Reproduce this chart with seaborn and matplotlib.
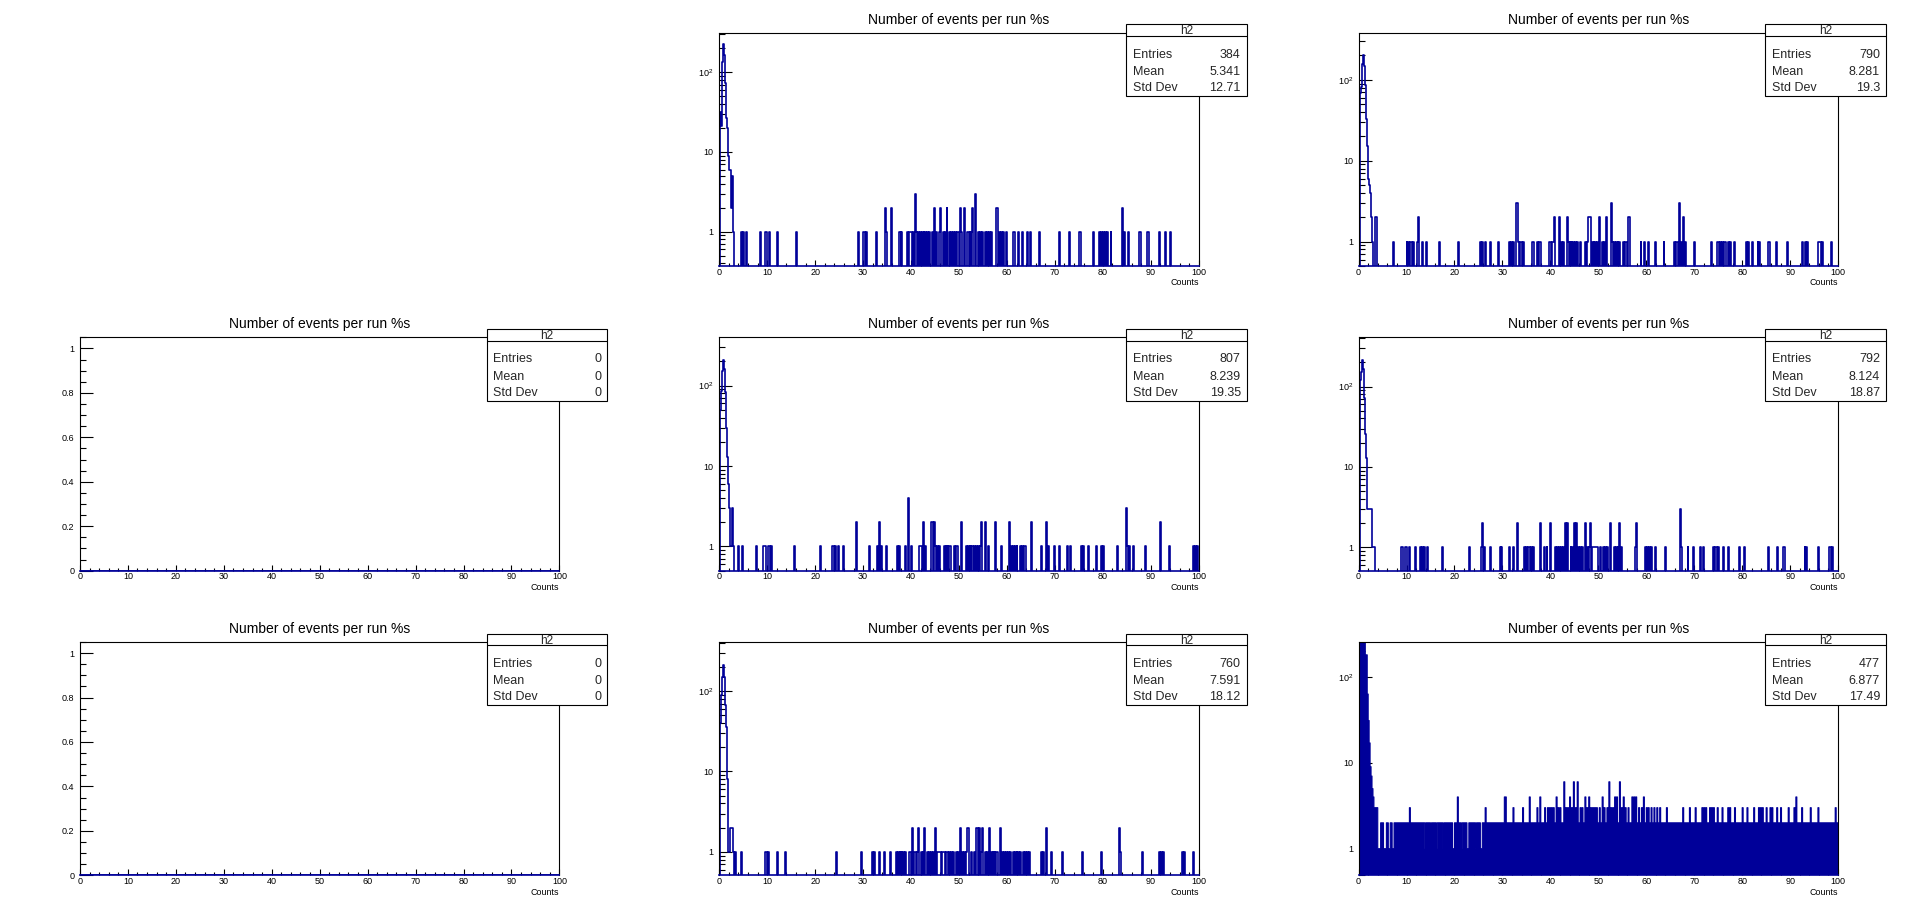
import numpy as np
import pandas as pd
import matplotlib
matplotlib.use("Agg")
import matplotlib.pyplot as plt
import seaborn as sns
from matplotlib.patches import Rectangle
from matplotlib.lines import Line2D
from matplotlib.ticker import MultipleLocator, LogLocator, NullFormatter, FuncFormatter

sns.set_theme(style="white")
plt.rcParams['font.family'] = ['Liberation Sans', 'DejaVu Sans']
plt.rcParams['mathtext.fontset'] = 'custom'
plt.rcParams['mathtext.rm'] = 'Liberation Sans'

BLUE = '#000099'
TITLE = 'Number of events per run %s'

# bins: 500 bins of 0.2 between 0 and 100
NBINS = 500
edges = np.linspace(0, 100, NBINS + 1)
centers = (edges[:-1] + edges[1:]) / 2

# ---- panel A (row 1, middle) ----
a_peak = [0, 32, 21, 135, 225, 165, 74, 27, 20, 9, 6, 6, 2, 5, 1]
a_ones = [4.7, 5.1, 5.7, 8.7, 9.7, 9.9, 10.5, 12.1, 16.1, 29.1, 30.1, 30.3, 30.7, 32.7, 34.9,
          37.5, 37.7, 38.1, 39.3, 39.7, 39.9, 40.1, 40.5, 41.1, 41.5, 41.9, 42.3, 42.7, 43.1,
          43.5, 43.9, 44.5, 45.3, 45.9, 46.7, 47.1, 48.1, 48.5, 48.9, 49.3, 49.7, 49.9, 50.5,
          51.7, 51.9, 52.3, 52.7, 54.1, 54.5, 54.9, 55.5, 55.9, 56.3, 56.7, 58.5, 58.9, 59.3,
          59.9, 61.3, 61.5, 62.5, 63.3, 64.3, 64.9, 66.7, 70.9, 73.1, 75.1, 75.3, 78.1, 79.3,
          79.7, 80.1, 80.5, 80.9, 81.7, 84.5, 85.3, 87.7, 87.9, 89.3, 89.5, 91.9, 93.1, 94.1]
a_twos = [34.7, 35.9, 44.9, 46.1, 47.5, 50.3, 51.1, 52.9, 57.9, 58.1, 84.1]
a_threes = [40.9, 53.5]

# ---- panel B (row 1, right) ----
b_peak = [0, 42, 68, 82, 155, 200, 147, 87, 33, 15, 6, 5, 4, 2, 1]
b_ones = [7.3, 10.1, 10.5, 10.9, 11.1, 11.5, 12.3, 13.3, 14.1, 16.9, 20.9, 25.5, 25.9, 26.5,
          27.5, 29.1, 31.5, 31.9, 32.3, 33.3, 33.7, 33.9, 34.3, 36.3, 36.5, 37.3, 37.7, 37.9,
          39.9, 40.1, 40.5, 40.7, 42.3, 42.7, 43.7, 44.1, 44.5, 44.9, 45.3, 45.7, 46.3, 47.3,
          47.7, 48.7, 49.1, 49.5, 49.9, 50.9, 51.3, 52.9, 53.3, 53.7, 54.1, 54.5, 55.3, 55.7,
          55.9, 58.9, 59.7, 60.5, 61.9, 63.7, 65.9, 66.3, 66.5, 67.3, 68.1, 70.1, 73.7, 74.9,
          75.1, 75.5, 75.9, 76.3, 76.5, 77.1, 77.5, 78.3, 80.9, 81.3, 82.1, 83.3, 83.7, 85.5,
          85.7, 87.1, 89.5, 92.5, 93.3, 93.7, 95.9, 96.1, 96.3, 96.7, 98.7]
b_twos = [3.5, 3.7, 12.5, 40.9, 41.9, 43.5, 47.9, 48.1, 48.3, 50.3, 51.7, 56.3, 56.5, 67.7]
b_threes = [32.9, 33.1, 52.7, 66.9]

# ---- panel C (row 2, middle) ----
c_peak = [0, 50, 86, 150, 207, 160, 82, 30, 13, 6, 3, 1, 1, 3, 1]
c_ones = [4.1, 4.9, 7.7, 9.3, 9.5, 9.7, 10.3, 10.5, 10.9, 15.7, 21.1, 23.7, 23.9, 24.3, 24.9,
          25.9, 31.3, 32.9, 33.1, 33.9, 34.9, 37.1, 37.5, 38.9, 40.1, 41.7, 41.9, 42.1, 42.7,
          43.1, 45.1, 45.5, 45.9, 46.9, 47.3, 47.7, 48.1, 48.3, 49.1, 49.5, 49.7, 51.5, 51.9,
          52.3, 52.7, 52.9, 53.3, 53.7, 54.1, 54.5, 56.1, 58.9, 60.9, 61.3, 61.7, 62.1, 62.9,
          63.3, 63.7, 63.9, 67.3, 68.7, 69.9, 70.9, 72.7, 73.3, 75.5, 75.9, 77.1, 78.7, 79.7,
          80.1, 83.1, 85.1, 85.5, 86.3, 88.9, 93.9, 98.9, 99.3, 99.7]
c_twos = [28.7, 33.5, 42.5, 44.3, 44.5, 44.9, 50.5, 54.7, 55.5, 57.7, 60.5, 65.1, 68.3, 92.1]
c_threes = [84.9]
c_fours = [39.5]

# ---- panel D (row 2, right) ----
d_peak = [0, 77, 120, 150, 213, 167, 72, 26, 13, 3, 3, 3, 3, 3, 1, 1, 1]
d_ones = [8.9, 9.1, 9.7, 9.9, 10.1, 10.7, 11.9, 12.9, 13.3, 13.7, 14.3, 17.5, 23.1, 25.7,
          26.3, 27.5, 29.5, 29.9, 31.5, 32.3, 34.7, 35.1, 35.5, 35.7, 36.1, 36.5, 38.7, 39.3,
          41.1, 41.5, 41.9, 42.3, 42.7, 44.3, 44.7, 45.9, 46.3, 46.7, 47.7, 48.1, 48.7, 48.9,
          49.1, 49.3, 49.5, 49.7, 49.9, 50.5, 51.1, 51.5, 51.9, 53.3, 53.7, 54.1, 54.9, 57.7,
          59.9, 60.3, 60.7, 61.1, 61.9, 64.1, 67.3, 68.7, 69.9, 71.3, 71.9, 74.1, 74.5, 74.7,
          75.1, 76.1, 77.1, 79.5, 80.5, 85.5, 87.3, 88.7, 88.9, 93.1, 93.5, 95.9, 98.3, 98.5,
          98.9]
d_twos = [25.9, 33.1, 37.9, 40.1, 43.1, 43.5, 45.1, 45.5, 47.3, 48.3, 52.5, 54.5, 57.9]
d_threes = [67.1]

# ---- panel E (row 3, middle) ----
e_peak = [0, 40, 90, 150, 213, 150, 68, 36, 8, 1, 1, 2, 2, 2, 1]
e_ones = [3.3, 4.7, 9.7, 9.9, 10.3, 12.1, 13.9, 24.5, 29.7, 31.9, 32.3, 33.5, 34.5, 35.7,
          36.9, 37.3, 37.7, 38.1, 38.5, 38.9, 39.7, 39.9, 40.7, 40.9, 41.3, 42.1, 42.5, 43.5,
          43.9, 44.3, 44.7, 45.5, 45.7, 45.9, 46.1, 46.5, 46.7, 46.9, 47.3, 47.5, 47.7, 48.1,
          48.5, 48.9, 49.5, 49.9, 50.7, 51.1, 51.5, 52.7, 53.3, 54.7, 55.5, 55.9, 56.7, 57.1,
          57.5, 57.9, 58.1, 59.1, 59.5, 59.9, 60.3, 60.7, 61.3, 61.7, 62.1, 62.5, 62.9, 63.5,
          63.9, 64.3, 64.7, 67.3, 67.7, 69.3, 71.5, 75.7, 79.7, 83.7, 88.3, 91.9, 92.3, 92.7,
          96.7, 97.1, 98.9]
e_twos = [40.3, 41.5, 42.9, 45.1, 50.3, 51.7, 51.9, 53.7, 53.9, 54.3, 54.9, 56.3, 58.7,
          68.3, 83.5]

# ---- panel F (row 3, right, filled) ----
f_peak = [206, 226, 260, 300, 300, 300, 300, 180, 180, 63, 31, 17, 9, 7, 5, 4, 3, 3, 3, 3]
f_two_start = [4.7, 5.9, 6.7, 7.5, 7.9, 8.7, 14.1, 15.3, 16.5, 17.9, 20.1, 21.7, 23.1, 24.7, 25.9, 27.1]
f_two_end = [5.1, 6.1, 6.9, 7.7, 8.5, 13.7, 14.9, 16.1, 17.5, 19.5, 21.3, 22.5, 24.3, 25.3, 26.9, 99.9]
f_spike_x = [10.7, 20.7, 26.5, 30.5, 30.7, 32.3, 34.3, 35.7, 37.3, 37.9, 38.9, 39.5, 39.9, 40.3,
             40.7, 41.3, 41.7, 42.1, 42.9, 43.3, 43.7, 44.1, 44.5, 44.9, 45.3, 45.7, 46.3, 46.7,
             47.3, 47.7, 48.1, 48.5, 48.9, 49.3, 49.7, 50.3, 50.9, 51.3, 51.9, 52.3, 52.7, 53.1,
             53.5, 53.9, 54.5, 54.9, 55.3, 55.7, 56.3, 57.1, 57.5, 57.9, 58.5, 59.1, 59.5, 60.1,
             60.5, 61.1, 61.7, 62.3, 62.9, 64.3, 67.7, 69.1, 70.3, 71.7, 72.1, 72.5, 73.3, 73.7,
             74.1, 74.9, 75.9, 77.1, 77.5, 78.5, 80.1, 81.1, 82.5, 83.5, 83.9, 84.3, 85.1, 85.9,
             86.3, 87.3, 88.1, 89.7, 90.9, 91.3, 92.5, 94.3, 95.9, 99.5]
f_spike_n = [3, 4, 3, 4, 4, 3, 3, 4, 3, 4, 3, 3, 3, 3,
             3, 4, 3, 3, 6, 3, 3, 4, 3, 6, 3, 6, 3, 3,
             4, 3, 4, 3, 3, 3, 3, 3, 4, 3, 3, 6, 3, 3,
             4, 4, 6, 3, 4, 3, 3, 4, 4, 4, 3, 3, 4, 3,
             3, 3, 3, 3, 3, 3, 3, 3, 3, 3, 3, 3, 3, 3,
             3, 3, 3, 3, 3, 3, 3, 3, 3, 3, 3, 3, 3, 3,
             3, 3, 3, 3, 3, 4, 3, 3, 3, 3]

# stats box values
entries = ['384', '790', '0', '807', '792', '0', '760', '477']
means = ['5.341', '8.281', '0', '8.239', '8.124', '0', '7.591', '6.877']
stds = ['12.71', '19.3', '0', '19.35', '18.87', '0', '18.12', '17.49']


def build(peak, ones=(), twos=(), threes=(), fours=()):
    counts = np.zeros(NBINS)
    counts[:len(peak)] += peak
    for vals, n in ((ones, 1), (twos, 2), (threes, 3), (fours, 4)):
        idx = (np.asarray(vals, dtype=float) / 0.2).astype(int)
        np.add.at(counts, idx, n)
    return counts


def build_filled():
    counts = np.ones(NBINS)
    counts[:len(f_peak)] = f_peak
    for s, e in zip(f_two_start, f_two_end):
        counts[int(s / 0.2):int(e / 0.2) + 1] = 2
    counts[(np.asarray(f_spike_x) / 0.2).astype(int)] = f_spike_n
    return counts


# (col, row, counts, log, filled, ylim)
panels = [
    (1, 0, build(a_peak, a_ones, a_twos, a_threes), True, False, (0.37, 315)),
    (2, 0, build(b_peak, b_ones, b_twos, b_threes), True, False, (0.5, 383)),
    (0, 1, np.zeros(NBINS), False, False, (0, 1.05)),
    (1, 1, build(c_peak, c_ones, c_twos, c_threes, c_fours), True, False, (0.5, 397)),
    (2, 1, build(d_peak, d_ones, d_twos, d_threes), True, False, (0.51, 409)),
    (0, 2, np.zeros(NBINS), False, False, (0, 1.05)),
    (1, 2, build(e_peak, e_ones, e_twos), True, False, (0.51, 409)),
    (2, 2, build_filled(), True, True, (0.49, 254)),
]

# 3x3 pads, frame at 12.5% margins left/right
lefts = [0.04167, 0.37500, 0.70833]
bottoms = [0.7090, 0.3756, 0.0423]
W, H = 0.25, 0.2553

fig = plt.figure(figsize=(19.18, 9.14), dpi=100)

for i, (col, row, counts, log, filled, ylim) in enumerate(panels):
    ax = fig.add_axes([lefts[col], bottoms[row], W, H])
    if log:
        ax.set_yscale('log')
    df = pd.DataFrame({'Counts': centers, 'w': counts})
    if filled:
        sns.histplot(data=df, x='Counts', weights='w', bins=NBINS, binrange=(0, 100),
                     element='step', fill=True, color=BLUE, alpha=1, linewidth=0.8, ax=ax)
    else:
        sns.histplot(data=df, x='Counts', weights='w', bins=NBINS, binrange=(0, 100),
                     element='step', fill=False, color=BLUE, linewidth=1.2, ax=ax)
    ax.set_xlim(0, 100)
    ax.set_xlabel('')
    ax.set_ylabel('')

    for sp in ax.spines.values():
        sp.set_color('black')
        sp.set_linewidth(0.8)
    ax.spines['bottom'].set_color(BLUE)
    ax.spines['bottom'].set_linewidth(1.2)

    ax.xaxis.set_major_locator(MultipleLocator(10))
    ax.xaxis.set_minor_locator(MultipleLocator(2))
    ax.xaxis.set_major_formatter(FuncFormatter(lambda v, p: '%g' % v))
    if log:
        ax.set_yticks([1, 10, 100], labels=['1', '10', '$10^{2}$'])
        ax.yaxis.set_minor_locator(LogLocator(base=10, subs=np.arange(2, 10), numticks=20))
        ax.yaxis.set_minor_formatter(NullFormatter())
    else:
        ax.yaxis.set_major_locator(MultipleLocator(0.2))
        ax.yaxis.set_minor_locator(MultipleLocator(0.05))
        ax.yaxis.set_major_formatter(FuncFormatter(lambda v, p: '%g' % round(v, 2)))

    ax.tick_params(which='both', direction='in', bottom=True, left=True, top=False, right=False,
                   colors='black', labelsize=6.5, width=0.8)
    ax.tick_params(axis='x', which='major', length=4, pad=1.2)
    ax.tick_params(axis='x', which='minor', length=2.2)
    ax.tick_params(axis='y', which='major', length=9, pad=4)
    ax.tick_params(axis='y', which='minor', length=4.5)
    ax.set_ylim(*ylim)

    ax.text(0.5, 1.0386, TITLE, transform=ax.transAxes, ha='center', va='baseline',
            fontsize=10, color='black')
    ax.text(1.0, -0.083, 'Counts', transform=ax.transAxes, ha='right', va='baseline',
            fontsize=6.4, color='black')

    # stats box
    x0, x1, y0, y1 = 0.8485, 1.10, 0.7287, 1.036
    ax.add_patch(Rectangle((x0, y0), x1 - x0, y1 - y0, transform=ax.transAxes,
                           facecolor='white', edgecolor='black', linewidth=0.8,
                           clip_on=False, zorder=10))
    ax.add_artist(Line2D([x0, x1], [0.986, 0.986], transform=ax.transAxes, color='black',
                         linewidth=0.8, clip_on=False, zorder=11))
    ax.text((x0 + x1) / 2, 0.993, 'h2', transform=ax.transAxes, ha='center', va='baseline',
            fontsize=8.6, zorder=12)
    for lab, val, yy in zip(['Entries', 'Mean', 'Std Dev'], [entries[i], means[i], stds[i]],
                            [0.893, 0.819, 0.750]):
        ax.text(0.8625, yy, lab, transform=ax.transAxes, ha='left', va='baseline',
                fontsize=9, zorder=12)
        ax.text(1.0875, yy, val, transform=ax.transAxes, ha='right', va='baseline',
                fontsize=9, zorder=12)

fig.savefig('out.png', dpi=100)
